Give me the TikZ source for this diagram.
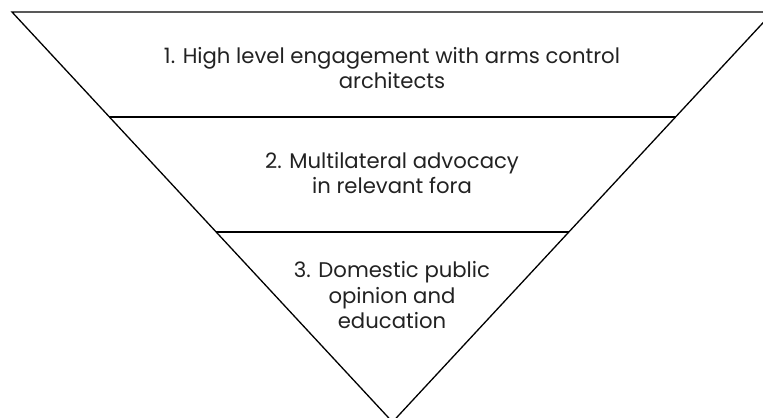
\documentclass[tikz,border=0pt]{standalone}
\usepackage{fontspec}
\setmainfont{Poppins}
\usetikzlibrary{calc}
\definecolor{inkgray}{HTML}{222222}
\begin{document}
\begin{tikzpicture}[x=1bp,y=-1bp,
  edge/.style={draw=black,line width=1.3bp,line join=miter},
  tiertext/.style={text=inkgray,align=center,inner sep=0pt,anchor=base,
    font=\fontsize{21.2bp}{25.5bp}\selectfont}]
  \useasboundingbox (0,0) rectangle (763,417);
  \clip (0,0) rectangle (763,417);
  % inverted pyramid
  \coordinate (tl) at (12,12);
  \coordinate (tr) at (773,12);
  \coordinate (apex) at (392.5,422);
  \coordinate (l1) at ($(tl)!0.2561!(apex)$);
  \coordinate (r1) at ($(tr)!0.2561!(apex)$);
  \coordinate (l2) at ($(tl)!0.5366!(apex)$);
  \coordinate (r2) at ($(tr)!0.5366!(apex)$);
  \draw[edge] (tl) -- (tr) -- (apex) -- cycle;
  \draw[edge] (l1) -- (r1);
  \draw[edge] (l2) -- (r2);
  % tier labels (anchored on the baseline of their last line)
  \node[tiertext] (t1) at (392,88.5)
    {1. High level engagement with arms control\\architects};
  \node[tiertext] (t2) at (392,193.5)
    {2. Multilateral advocacy\\in relevant fora};
  \node[tiertext] (t3) at (392,328.5)
    {3. Domestic public\\opinion and\\education};
\end{tikzpicture}
\end{document}
